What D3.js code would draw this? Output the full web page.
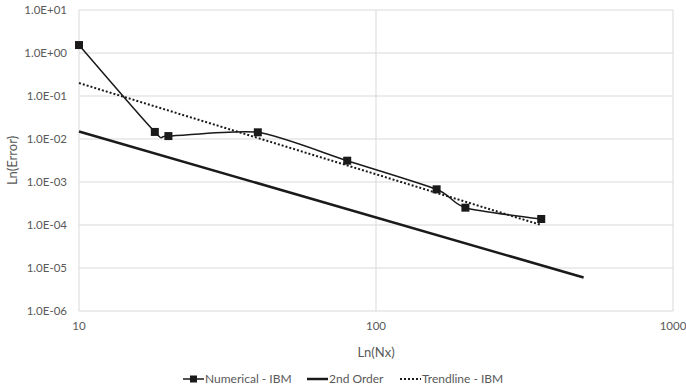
<!DOCTYPE html>
<html>
<head>
<meta charset="utf-8">
<script src="https://cdn.jsdelivr.net/npm/d3@7"></script>
<style>
  body { margin: 0; background: #fff; }
  text { font-family: Lato, "Open Sans", sans-serif; }
</style>
</head>
<body>
<div id="chart"></div>
<script>
// data
const numNx = [10, 18, 20, 40, 80, 160, 200, 360];
const numErr = [1.53, 0.0146, 0.0117, 0.0143, 0.00313, 0.000676, 0.000253, 0.000138];
const orderNx = [10, 500];
const orderErr = [0.015, 0.000006];
const trendNx = [10, 360];
const trendErr = [0.2, 0.0001];
const xTicks = [10, 100, 1000];
const yTicks = [1e1, 1e0, 1e-1, 1e-2, 1e-3, 1e-4, 1e-5, 1e-6];
const legendNames = ["Numerical - IBM", "2nd Order", "Trendline - IBM"];

const W = 686, H = 389;
const margin = {top: 10, right: 13, bottom: 78, left: 79},
    width = W - margin.left - margin.right,
    height = H - margin.top - margin.bottom;

const svg = d3.select("#chart")
  .append("svg")
    .attr("width", W)
    .attr("height", H);

const g = svg.append("g")
    .attr("transform", `translate(${margin.left},${margin.top})`);

const x = d3.scaleLog().domain([10, 1000]).range([0, width]);
const y = d3.scaleLog().domain([1e-6, 1e1]).range([height, 0]);

// grid
g.selectAll(".hgrid").data(yTicks).enter().append("line")
  .attr("x1", 0).attr("x2", width)
  .attr("y1", d => y(d)).attr("y2", d => y(d))
  .attr("stroke", "#d9d9d9").attr("stroke-width", 1);
g.selectAll(".vgrid").data(xTicks).enter().append("line")
  .attr("x1", d => x(d)).attr("x2", d => x(d))
  .attr("y1", 0).attr("y2", height)
  .attr("stroke", "#d9d9d9").attr("stroke-width", 1);

// tick labels
g.selectAll(".ylab").data(yTicks).enter().append("text")
  .attr("x", -12).attr("y", d => y(d))
  .attr("dy", "0.35em")
  .attr("text-anchor", "end")
  .style("font-size", "11.5px").attr("fill", "#595959")
  .text(d => d.toExponential(1).toUpperCase().replace(/E([+-])(\d)$/, "E$10$2"));
g.selectAll(".xlab").data(xTicks).enter().append("text")
  .attr("x", d => x(d)).attr("y", height + 19)
  .attr("text-anchor", "middle")
  .style("font-size", "11.5px").attr("fill", "#595959")
  .text(d => d);

// axis titles
svg.append("text")
  .attr("x", margin.left + width / 2).attr("y", 357)
  .attr("text-anchor", "middle")
  .style("font-size", "13px").attr("fill", "#595959")
  .text("Ln(Nx)");
svg.append("text")
  .attr("transform", "rotate(-90)")
  .attr("x", -(margin.top + height / 2)).attr("y", 17)
  .attr("text-anchor", "middle")
  .style("font-size", "13px").attr("fill", "#595959")
  .text("Ln(Error)");

// lines
const num = numNx.map((d, i) => ({nx: d, e: numErr[i]}));
const ord = orderNx.map((d, i) => ({nx: d, e: orderErr[i]}));
const trend = trendNx.map((d, i) => ({nx: d, e: trendErr[i]}));

const line = d3.line().x(d => x(d.nx)).y(d => y(d.e));

g.append("path").datum(ord)
  .attr("fill", "none").attr("stroke", "#1a1a1a").attr("stroke-width", 2.5)
  .attr("d", line);

g.append("path").datum(trend)
  .attr("fill", "none").attr("stroke", "#1a1a1a").attr("stroke-width", 2)
  .attr("stroke-dasharray", "2,2")
  .attr("d", line);

// smoothed line, a bit tighter than plain catmull-rom so it doesn't loop at 18-20
g.append("path").datum(num)
  .attr("fill", "none").attr("stroke", "#1a1a1a").attr("stroke-width", 1.5)
  .attr("d", line.curve(d3.curveCardinal.tension(0.3)));

g.selectAll(".pt").data(num).enter().append("rect")
  .attr("x", d => x(d.nx) - 4).attr("y", d => y(d.e) - 4)
  .attr("width", 8).attr("height", 8)
  .attr("fill", "#1a1a1a");

// legend
const lx = [183, 307, 400];
const ly = 379;
const leg = svg.selectAll(".leg").data(legendNames).enter().append("g")
  .attr("transform", (d, i) => `translate(${lx[i]},${ly})`);
leg.append("line")
  .attr("x1", 0).attr("x2", 21).attr("y1", 0).attr("y2", 0)
  .attr("stroke", "#1a1a1a")
  .attr("stroke-width", (d, i) => [1.5, 2.5, 2][i])
  .attr("stroke-dasharray", (d, i) => i == 2 ? "2,2" : null);
leg.filter((d, i) => i == 0).append("rect")
  .attr("x", 7).attr("y", -3.5).attr("width", 7).attr("height", 7)
  .attr("fill", "#1a1a1a");
leg.append("text")
  .attr("x", 22).attr("y", 0).attr("dy", "0.35em")
  .style("font-size", "12px").attr("fill", "#595959")
  .text(d => d);
</script>
</body>
</html>
